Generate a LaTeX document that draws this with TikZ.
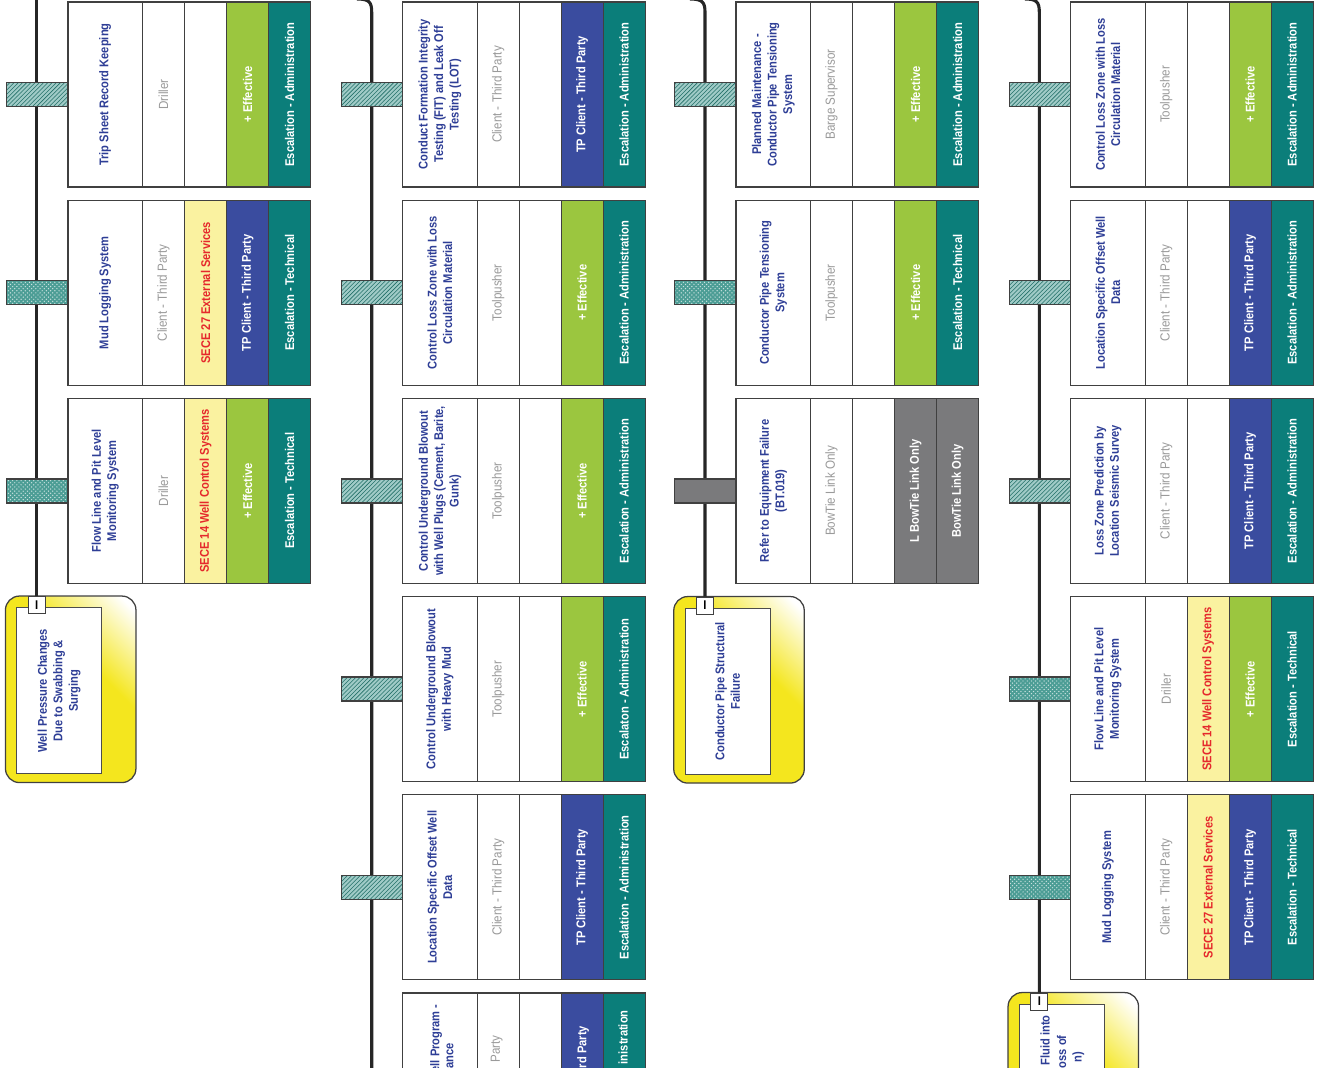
\documentclass[tikz,border=0pt]{standalone}
\usepackage{fontspec}
\setmainfont{Liberation Sans}[FakeStretch=0.88]
\usetikzlibrary{calc,patterns}

\definecolor{bowblue}{HTML}{2E3E96}
\definecolor{whogrey}{HTML}{9A9A9A}
\definecolor{effgreen}{HTML}{9BC63F}
\definecolor{tpblue}{HTML}{3A4C9F}
\definecolor{escteal}{HTML}{0B7E7A}
\definecolor{secebg}{HTML}{FAF2A0}
\definecolor{secered}{HTML}{E5282C}
\definecolor{linkgrey}{HTML}{7A7A7C}
\definecolor{linkteal}{HTML}{2C8C82}
\definecolor{threatyellow}{HTML}{F4E61E}

\def\px{0.025cm}
\newcommand{\celltxt}{\fontsize{9.0}{11}\selectfont\bfseries}
\newcommand{\whotxt}{\fontsize{9.4}{11}\selectfont}
\pgfdeclareverticalshading{threatshade}{100bp}{color(0bp)=(threatyellow); color(60bp)=(threatyellow); color(82bp)=(white); color(100bp)=(white)}

\tikzset{
  cell/.style={draw=black!75, line width=0.9pt, rotate=90, minimum width=185*\px, inner sep=1pt, align=center, font=\celltxt, text=white},
  namecell/.style={cell, minimum height=74.5*\px, fill=white, text=bowblue},
  whocell/.style={cell, minimum height=42*\px, fill=white, text=whogrey, font=\whotxt},
  blankcell/.style={cell, minimum height=42*\px, fill=white},
  sececell/.style={cell, minimum height=42*\px, fill=secebg, text=secered},
  effcell/.style={cell, minimum height=42*\px, fill=effgreen},
  tpcell/.style={cell, minimum height=42*\px, fill=tpblue},
  esccell/.style={cell, minimum height=42*\px, fill=escteal},
  linkcell/.style={cell, minimum height=42*\px, fill=linkgrey},
  linkbox/.style={draw=black!75, line width=0.9pt, minimum width=61*\px, minimum height=24*\px, inner sep=0},
  diag/.style={linkbox, preaction={fill=linkteal!45}, pattern=north east lines, pattern color=linkteal!80!black},
  mesh/.style={linkbox, preaction={fill=linkteal!85}, pattern=crosshatch dots, pattern color=linkteal!25},
  greylink/.style={linkbox, fill=linkgrey},
  threatline/.style={line width=2.2pt, black!85},
  threatbox/.style={draw=black!75, line width=0.9pt, rounded corners=0.35cm, minimum width=130.5*\px, minimum height=186.5*\px, inner sep=0, shading=threatshade, shading angle=-45},
  threatin/.style={draw=black!70, fill=white, line width=0.6pt, rotate=90, minimum width=166*\px, minimum height=85*\px, inner sep=1pt, align=center, font=\celltxt, text=bowblue},
  threatid/.style={draw=black!75, fill=white, line width=0.6pt, minimum width=17*\px, minimum height=17*\px, inner sep=0, font=\celltxt},
  part/.style={rotate=90, anchor=east, inner sep=0, font=\celltxt}
}

% barrier: [link] {x,y} {name} {title} {who} {st3}{txt3} {st4}{txt4} {st5}{txt5}
\newcommand{\barrier}[9][diag]{%
  \begin{scope}[shift={(#2)}]
    \node[#1] (#3-l) at (-31,92.5) {};
    \node[namecell] (#3-1) at (37.25,92.5) {#4};
    \node[whocell] (#3-2) at (95.5,92.5) {#5};
    \node[#6] (#3-3) at (137.5,92.5) {#7};
    \node[#8] (#3-4) at (179.5,92.5) {#9};
    \barrierend{#3}}
\newcommand{\barrierend}[3]{%
    \node[#2] (#1-5) at (221.5,92.5) {#3};
  \end{scope}}
% threat: {line x,top} {name} {text}
\newcommand{\threat}[3]{%
  \begin{scope}[shift={(#1)}]
    \node[threatbox] (#2) at (34,93.3) {};
    \node[threatin] (#2-in) at (22.5,94.7) {#3};
    \node[threatid] (#2-i) at (0,9) {I};
  \end{scope}}

\begin{document}
\begin{tikzpicture}[x=\px, y=-\px]
			%%%%% START %%%%%
			\useasboundingbox (0,0) rectangle (1319,1067);
			\clip (0,0) rectangle (1319,1067);
			
			% threats
			\threat{36.7,596}{t1}{Well Pressure Changes\\Due to Swabbing \&\\Surging}
			\threat{705,596.5}{t3}{Conductor Pipe Structural\\Failure}
			\threat{1039.3,992.5}{t4}{}
			\node[part, text=bowblue] (t4-a) at (1045,1015) {Fluid into};
			\node[part, text=bowblue] (t4-b) at (1061.7,1035) {oss of};
			\node[part, text=bowblue] (t4-c) at (1078.3,1051.7) {n)};
			
			% threat lines
			\coordinate (top1) at (36.7,-4);
			\coordinate (bend2) at (357,-1);
			\coordinate (top2) at (371.7,12);
			\coordinate (end2) at (371.7,1080);
			\coordinate (bend3) at (690,-1);
			\coordinate (top3) at (705,12);
			\coordinate (bend4) at (1025,-1);
			\coordinate (top4) at (1039.3,12);
			\draw[threatline] (top1) -- (t1-i.north);
			\draw[threatline] (bend2) .. controls (369,-1) and (371.7,2) .. (top2) -- (end2);
			\draw[threatline] (bend3) .. controls (702,-1) and (705,2) .. (top3) -- (t3-i.north);
			\draw[threatline] (bend4) .. controls (1036.5,-1) and (1039.3,2) .. (top4) -- (t4-i.north);
			
			% column 1
			\barrier[diag]{68,2}{b11}{Trip Sheet Record Keeping}{Driller}{blankcell}{}{effcell}{+ Effective}{esccell}{Escalation - Administration}
			\barrier[mesh]{68,200.2}{b12}{Mud Logging System}{Client - Third Party}{sececell}{SECE 27 External Services}{tpcell}{TP Client - Third Party}{esccell}{Escalation - Technical}
			\barrier[mesh]{68,398.4}{b13}{Flow Line and Pit Level\\Monitoring System}{Driller}{sececell}{SECE 14 Well Control Systems}{effcell}{+ Effective}{esccell}{Escalation - Technical}
			
			% column 2
			\barrier{402.7,2}{b21}{Conduct Formation Integrity\\Testing (FIT) and Leak Off\\Testing (LOT)}{Client - Third Party}{blankcell}{}{tpcell}{TP Client - Third Party}{esccell}{Escalation - Administration}
			\barrier{402.7,200.2}{b22}{Control Loss Zone with Loss\\Circulation Material}{Toolpusher}{blankcell}{}{effcell}{+ Effective}{esccell}{Escalation - Administration}
			\barrier{402.7,398.4}{b23}{Control Underground Blowout\\with Well Plugs (Cement, Barite,\\Gunk)}{Toolpusher}{blankcell}{}{effcell}{+ Effective}{esccell}{Escalation - Administration}
			\barrier{402.7,596.6}{b24}{Control Underground Blowout\\with Heavy Mud}{Toolpusher}{blankcell}{}{effcell}{+ Effective}{esccell}{Escalaton - Administration}
			\barrier{402.7,794.8}{b25}{Location Specific Offset Well\\Data}{Client - Third Party}{blankcell}{}{tpcell}{TP Client - Third Party}{esccell}{Escalation - Administration}
			\barrier{402.7,993}{b26}{}{}{blankcell}{}{tpcell}{}{esccell}{}
			\node[part, text=bowblue] (b26-a) at (436,1004) {ell Program -};
			\node[part, text=bowblue] (b26-b) at (450,1043) {ance};
			\node[part, text=whogrey, font=\whotxt] (b26-c) at (496.7,1035) {Party};
			\node[part, text=white] (b26-d) at (583,1025.7) {rd Party};
			\node[part, text=white] (b26-e) at (623,1010) {inistration};
			
			% column 3
			\barrier{736,2}{b31}{Planned Maintenance -\\Conductor Pipe Tensioning\\System}{Barge Supervisor}{blankcell}{}{effcell}{+ Effective}{esccell}{Escalation - Administration}
			\barrier[mesh]{736,200.2}{b32}{Conductor Pipe Tensioning\\System}{Toolpusher}{blankcell}{}{effcell}{+ Effective}{esccell}{Escalation - Technical}
			\barrier[greylink]{736,398.4}{b33}{Refer to Equipment Failure\\(BT.019)}{BowTie Link Only}{blankcell}{}{linkcell}{L BowTie Link Only}{linkcell}{BowTie Link Only}
			
			% column 4
			\barrier{1070.7,2}{b41}{Control Loss Zone with Loss\\Circulation Material}{Toolpusher}{blankcell}{}{effcell}{+ Effective}{esccell}{Escalation - Administration}
			\barrier{1070.7,200.2}{b42}{Location Specific Offset Well\\Data}{Client - Third Party}{blankcell}{}{tpcell}{TP Client - Third Party}{esccell}{Escalation - Administration}
			\barrier{1070.7,398.4}{b43}{Loss Zone Prediction by\\Location Seismic Survey}{Client - Third Party}{blankcell}{}{tpcell}{TP Client - Third Party}{esccell}{Escalation - Administration}
			\barrier[mesh]{1070.7,596.6}{b44}{Flow Line and Pit Level\\Monitoring System}{Driller}{sececell}{SECE 14 Well Control Systems}{effcell}{+ Effective}{esccell}{Escalation - Technical}
			\barrier[mesh]{1070.7,794.8}{b45}{Mud Logging System}{Client - Third Party}{sececell}{SECE 27 External Services}{tpcell}{TP Client - Third Party}{esccell}{Escalation - Technical}
			
			%%%%% END %%%%%
\end{tikzpicture}
\end{document}
